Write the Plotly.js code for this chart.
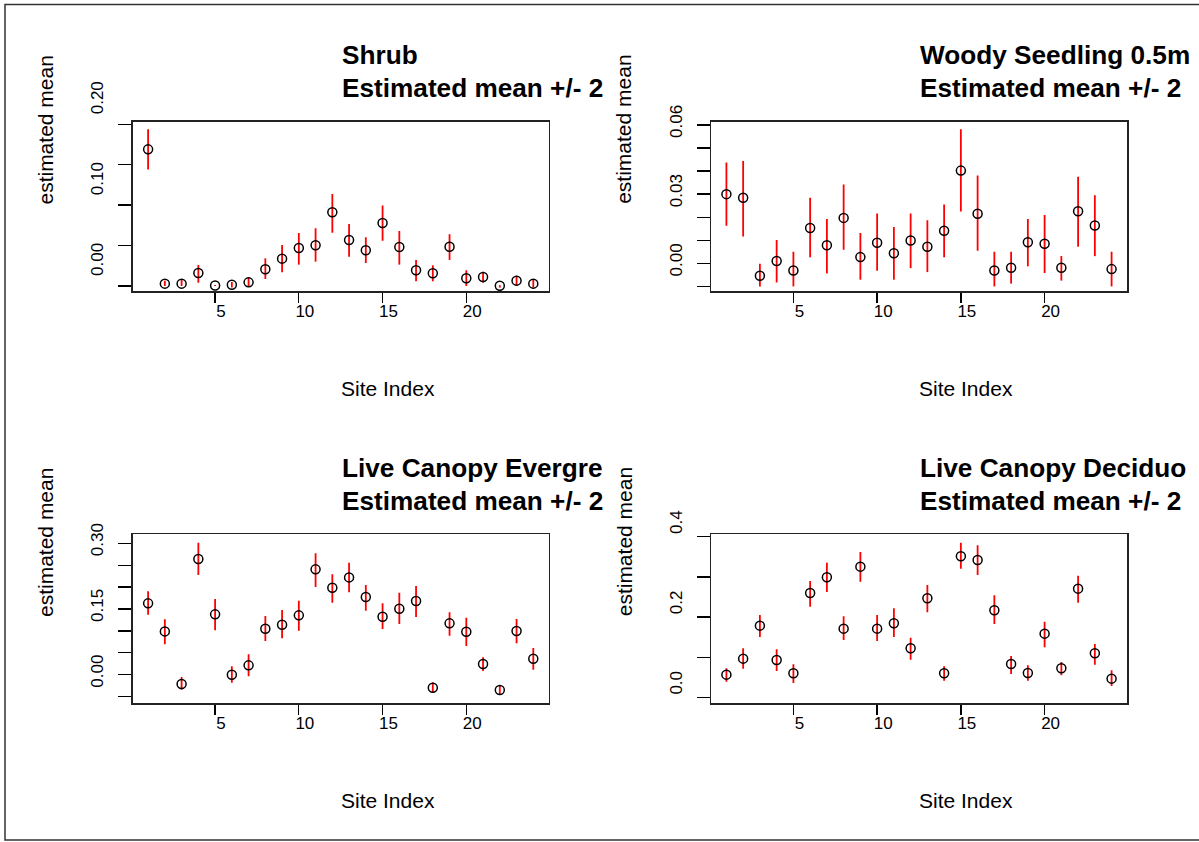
<!DOCTYPE html>
<html><head><meta charset="utf-8">
<script src="https://cdn.plot.ly/plotly-3.0.1.min.js"></script>
<style>html,body{margin:0;padding:0;background:#fff}#chart{width:1199px;height:842px}</style>
</head><body><div id="chart"></div>
<script>
// ---------------- data ----------------
const siteIndex = [1,2,3,4,5,6,7,8,9,10,11,12,13,14,15,16,17,18,19,20,21,22,23,24];

const shrubMean  = [0.169,0.0029,0.0029,0.0161,0.0005,0.0015,0.0045,0.0206,0.0338,0.0470,0.0503,0.0911,0.0569,0.0441,0.0779,0.0482,0.0194,0.0157,0.0486,0.0095,0.0111,0.0002,0.0066,0.0029];
const shrubLower = [0.144,0,0,0.0041,0,-0.002,-0.0012,0.0087,0.0169,0.0264,0.0301,0.0660,0.0363,0.0284,0.0561,0.0264,0.0058,0.0058,0.0322,0,0.0041,-0.002,0.0004,-0.002];
const shrubUpper = [0.194,0.0066,0.0074,0.026,0.0012,0.005,0.0107,0.0342,0.0507,0.0656,0.0713,0.1138,0.0767,0.0602,0.0994,0.0680,0.0322,0.0256,0.0639,0.0194,0.0177,0.001,0.0128,0.0078];

const seedMean  = [0.0400,0.0384,0.0046,0.0110,0.0069,0.0253,0.0178,0.0297,0.0127,0.0189,0.0144,0.0199,0.0172,0.0241,0.0502,0.0315,0.0069,0.0081,0.0191,0.0185,0.0081,0.0326,0.0264,0.0075];
const seedLower = [0.0263,0.0216,0,0.0017,0,0.0126,0.0056,0.0159,0.0029,0.0068,0.0029,0.0079,0.0062,0.0126,0.0325,0.0154,0,0.0012,0.0087,0.0058,0.0025,0.0172,0.0131,0];
const seedUpper = [0.0537,0.0544,0.0098,0.0201,0.0150,0.0384,0.0292,0.0442,0.0231,0.0316,0.0258,0.0316,0.0287,0.0355,0.0681,0.0481,0.0150,0.0150,0.0292,0.0310,0.0132,0.0475,0.0395,0.0150];

const everMean  = [0.2129,0.1490,0.0289,0.3141,0.1878,0.0502,0.0715,0.1551,0.1643,0.1856,0.2905,0.2487,0.2722,0.2274,0.1825,0.2008,0.2183,0.0205,0.1673,0.1483,0.0745,0.0152,0.1498,0.0867];
const everLower = [0.1871,0.1194,0.0160,0.2776,0.1513,0.0319,0.0464,0.1270,0.1331,0.1506,0.2502,0.2144,0.2380,0.1962,0.1544,0.1658,0.1818,0.0099,0.1392,0.1156,0.0586,0.0038,0.1217,0.0616];
const everUpper = [0.2403,0.1764,0.0449,0.3513,0.2228,0.0692,0.0966,0.1840,0.1977,0.2190,0.3270,0.2791,0.3057,0.2548,0.2129,0.2373,0.2525,0.0327,0.1924,0.1802,0.0897,0.0251,0.1772,0.1110];

const decidMean  = [0.0565,0.0963,0.1785,0.0930,0.0598,0.2599,0.2989,0.1710,0.3254,0.1710,0.1843,0.1220,0.2466,0.0598,0.3512,0.3420,0.2167,0.0830,0.0606,0.1586,0.0722,0.2707,0.1096,0.0465];
const decidLower = [0.0390,0.0714,0.1503,0.0656,0.0357,0.2258,0.2623,0.1428,0.2881,0.1403,0.1503,0.0938,0.2117,0.0415,0.3205,0.3047,0.1826,0.0581,0.0415,0.1245,0.0548,0.2358,0.0814,0.0282];
const decidUpper = [0.0722,0.1220,0.2051,0.1196,0.0822,0.2897,0.3354,0.2017,0.3620,0.2051,0.2217,0.1486,0.2798,0.0772,0.3852,0.3786,0.2540,0.1029,0.0797,0.1885,0.0880,0.3030,0.1328,0.0672];

const xTickVals = [5,10,15,20];
const xTickText = ["5","10","15","20"];
const shrubTickVals = [0,0.05,0.10,0.15,0.20];
const shrubTickText = ["0.00","","0.10","","0.20"];
const seedTickVals = [0,0.01,0.02,0.03,0.04,0.05,0.06,0.07];
const seedTickText = ["0.00","","","0.03","","","0.06",""];
const everTickVals = [0,0.05,0.10,0.15,0.20,0.25,0.30,0.35];
const everTickText = ["0.00","","","0.15","","","0.30",""];
const decidTickVals = [0,0.1,0.2,0.3,0.4];
const decidTickText = ["0.0","","0.2","","0.4"];

const panelTitles = ["Shrub","Woody Seedling 0.5m","Live Canopy Evergre","Live Canopy Deciduo"];
const subTitle = "Estimated mean +/- 2";
const xTitle = "Site Index";
const yTitle = "estimated mean";

// ---------------- layout helpers ----------------
const W = 1199, H = 842;
const px = v => v / W;
const py = v => 1 - v / H;
const FONT = "Liberation Sans, Arial, Helvetica, sans-serif";

const panels = [
  {mean: shrubMean, lo: shrubLower, hi: shrubUpper, tv: shrubTickVals, tt: shrubTickText, yr:[-0.0062,0.2032], box:[132.7,548.7,121.7,291], shift:24},
  {mean: seedMean,  lo: seedLower,  hi: seedUpper,  tv: seedTickVals,  tt: seedTickText,  yr:[-0.0020,0.0714], box:[711,1127,121.7,291], shift:24},
  {mean: everMean,  lo: everLower,  hi: everUpper,  tv: everTickVals,  tt: everTickText,  yr:[-0.0151,0.3705], box:[132.7,548.7,534.3,703.3], shift:23},
  {mean: decidMean, lo: decidLower, hi: decidUpper, tv: decidTickVals, tt: decidTickText, yr:[-0.0149,0.406],  box:[711,1127,534.3,703.3], shift:12}
];

const traces = [];
const layout = {
  width: W, height: H, autosize: false,
  margin: {l:0, r:0, t:0, b:0},
  paper_bgcolor: "#fff", plot_bgcolor: "#fff",
  showlegend: false,
  font: {family: FONT, color: "#000"},
  annotations: [],
  shapes: [{type:"rect", xref:"paper", yref:"paper", x0: px(5), x1: px(1215), y0: py(840), y1: py(4.5),
            line:{color:"#333", width:1.5}, fillcolor:"rgba(0,0,0,0)", layer:"below"}]
};

panels.forEach((p, i) => {
  const n = i + 1;
  const xa = n === 1 ? "x" : "x" + n, ya = n === 1 ? "y" : "y" + n;
  const xk = n === 1 ? "xaxis" : "xaxis" + n, yk = n === 1 ? "yaxis" : "yaxis" + n;
  traces.push({
    type: "scatter", mode: "markers", x: siteIndex, y: p.mean, xaxis: xa, yaxis: ya,
    marker: {symbol: "circle-open", size: 9, color: "#000", line: {color: "#000", width: 1.5}},
    error_y: {type: "data", symmetric: false,
      array: p.hi.map((h, k) => h - p.mean[k]),
      arrayminus: p.lo.map((l, k) => p.mean[k] - l),
      color: "red", thickness: 1.8, width: 0},
    hoverinfo: "skip"
  });
  const [x0, x1, y0, y1] = p.box;
  layout[xk] = {
    domain: [px(x0), px(x1)], range: [0.08, 24.92], anchor: ya,
    showgrid: false, zeroline: false, showline: true, mirror: true, linecolor: "#222", linewidth: 1.5,
    ticks: "outside", ticklen: 10, tickwidth: 1.3, tickcolor: "#000",
    tickvals: xTickVals, ticktext: xTickText, ticklabelshift: 6, ticklabelstandoff: -6,
    tickfont: {family: FONT, size: 17, color: "#000"}
  };
  layout[yk] = {
    domain: [py(y1), py(y0)], range: p.yr, anchor: xa,
    showgrid: false, zeroline: false, showline: true, mirror: true, linecolor: "#222", linewidth: 1.5,
    ticks: "outside", ticklen: 13, tickwidth: 1.3, tickcolor: "#000",
    tickvals: p.tv, ticktext: p.tt, tickangle: -90, ticklabelshift: -p.shift, ticklabelstandoff: 8,
    tickfont: {family: FONT, size: 17, color: "#000"}
  };
  const cx = (x0 + x1) / 2, cy = (y0 + y1) / 2;
  layout.annotations.push({xref:"paper", yref:"paper", x: px(cx - 1), y: py(y0 - 66.5), xanchor:"left", yanchor:"middle",
    text: "<b>" + panelTitles[i] + "</b>", showarrow:false, font:{family: FONT, size: 26.2, color:"#000"}});
  layout.annotations.push({xref:"paper", yref:"paper", x: px(cx - 1), y: py(y0 - 33.5), xanchor:"left", yanchor:"middle",
    text: "<b>" + subTitle + "</b>", showarrow:false, font:{family: FONT, size: 26.2, color:"#000"}});
  layout.annotations.push({xref:"paper", yref:"paper", x: px(cx - 2), y: py(y1 + 97), xanchor:"left", yanchor:"middle",
    text: xTitle, showarrow:false, font:{family: FONT, size: 21, color:"#000"}});
  layout.annotations.push({xref:"paper", yref:"paper", x: px(x0 - 87), y: py(cy), xanchor:"center", yanchor:"bottom",
    text: yTitle, textangle: -90, showarrow:false, font:{family: FONT, size: 21, color:"#000"}});
});

Plotly.newPlot("chart", traces, layout, {displayModeBar: false, staticPlot: true});
</script>
</body></html>
